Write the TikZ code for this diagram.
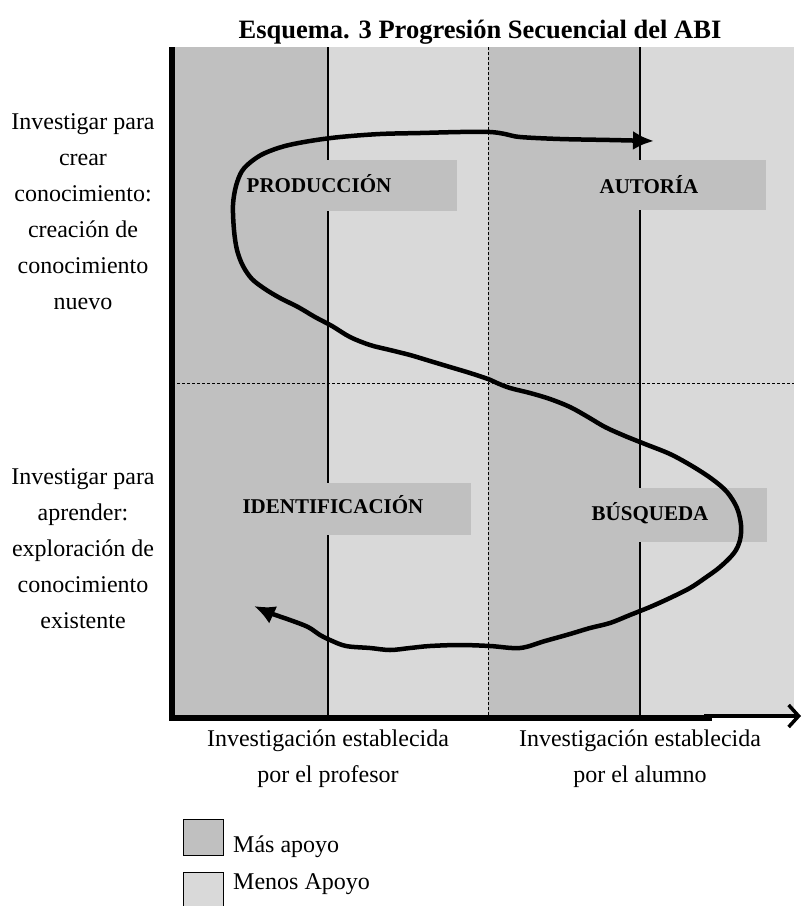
\documentclass[tikz,border=0pt]{standalone}
\usepackage{fontspec}
\setmainfont{Liberation Serif}
\usetikzlibrary{arrows.meta}
\definecolor{darkband}{HTML}{C0C0C0}
\definecolor{lightband}{HTML}{D9D9D9}
\begin{document}
\begin{tikzpicture}[x=1pt,y=-1pt,
  body/.style={font=\fontsize{24}{36}\selectfont, align=center, inner sep=0pt},
  phase/.style={font=\bfseries\fontsize{21}{25}\selectfont, inner sep=0pt},
  titlefont/.style={font=\bfseries\fontsize{26.5}{30}\selectfont, inner sep=0pt},
  labelbox/.style={fill=darkband, draw=none},
  divider/.style={line width=1.8pt},
  guide/.style={line width=0.8pt, dash pattern=on 3pt off 2pt},
  axis/.style={line width=5.5pt, line join=miter},
  xarrow/.style={line width=3.5pt, -{Straight Barb[length=10pt,width=22pt,line width=3.5pt]}},
  route/.style={line width=4.5pt, line join=round,
    {Latex[length=21pt,width=19pt]}-{Latex[length=21pt,width=19pt]}},
  keybox/.style={draw=black, line width=1pt, minimum width=40pt, minimum height=36pt, inner sep=0pt}
]
\useasboundingbox[fill=white] (0,0) rectangle (803,906);

% support bands
\fill[darkband]  (172,47) rectangle (328,718);
\fill[lightband] (328,47) rectangle (488,718);
\fill[darkband]  (488,47) rectangle (640,718);
\fill[lightband] (640,47) rectangle (794,718);

% quadrant guides
\coordinate (vtop) at (488,47);
\coordinate (vbot) at (488,718);
\coordinate (hleft) at (172,383);
\coordinate (hright) at (794,383);
\draw[guide] (vtop) -- (vbot);
\draw[guide] (hleft) -- (hright);

% band dividers
\coordinate (d1top) at (328,47);
\coordinate (d1bot) at (328,718);
\coordinate (d2top) at (640,47);
\coordinate (d2bot) at (640,718);
\draw[divider] (d1top) -- (d1bot);
\draw[divider] (d2top) -- (d2bot);

% phase label boxes
\fill[labelbox] (236,160) rectangle (457,211);
\fill[labelbox] (560,160) rectangle (766,210);
\fill[labelbox] (236,483) rectangle (471,535);
\fill[labelbox] (560,488) rectangle (767,542);

\node[phase] (produccion) at (319,184) {PRODUCCIÓN};
\node[phase] (autoria) at (649,185) {AUTORÍA};
\node[phase] (identificacion) at (333,505) {IDENTIFICACIÓN};
\node[phase] (busqueda) at (650,513) {BÚSQUEDA};

% axes
\coordinate (ytop) at (172,47);
\coordinate (origin) at (172,718);
\coordinate (xjoin) at (712,718);
\coordinate (xstart) at (704,716);
\coordinate (xend) at (801,716);
\draw[axis] (ytop) -- (origin) -- (xjoin);
\draw[xarrow] (xstart) -- (xend);

% progression route
\coordinate (routestart) at (254,606);
\coordinate (routeend) at (654,141);
\draw[route] plot[smooth, tension=0.55] coordinates {
  (routestart) (270,613) (290,620) (308,627) (320,635) (330,640) (346,646)
  (370,648) (390,650) (410,648) (430,646) (460,645) (490,646) (520,648)
  (545,641) (570,634) (590,628) (610,623) (630,615) (650,607) (670,598)
  (690,588) (705,578) (720,567) (734,553) (740,540) (741,525) (737,508)
  (727,492) (712,479) (692,466) (670,454) (645,444) (625,436) (605,427)
  (588,417) (570,407) (550,399) (530,393) (510,388) (497,383) (488,379)
  (470,373) (450,367) (430,361) (410,355) (390,350) (370,345) (350,337)
  (332,326) (315,317) (298,307) (280,298) (265,289) (252,279) (243,266)
  (237,250) (234,230) (233,205) (236,186) (242,171) (252,161) (265,153)
  (285,146) (310,141) (340,137) (380,134) (420,133) (460,132) (490,132)
  (505,134) (520,137) (560,139) (610,140) (routeend)};

% title
\node[titlefont] (title) at (480,32) {Esquema. 3 Progresión Secuencial del ABI};

% vertical axis captions
\node[body] (crear) at (83,212) {Investigar para\\crear\\conocimiento:\\creación de\\conocimiento\\nuevo};
\node[body] (aprender) at (83,549) {Investigar para\\aprender:\\exploración de\\conocimiento\\existente};

% horizontal axis captions
\node[body] (profesor) at (328,759) {Investigación establecida\\por el profesor};
\node[body] (alumno) at (640,759) {Investigación establecida\\por el alumno};

% key
\node[keybox, fill=darkband, anchor=north west] (keymas) at (183,819) {};
\node[keybox, fill=lightband, anchor=north west] (keymenos) at (183,872) {};
\node[body, anchor=west] (masapoyo) at (233,847) {Más apoyo};
\node[body, anchor=west] (menosapoyo) at (233,884) {Menos Apoyo};
\end{tikzpicture}
\end{document}
